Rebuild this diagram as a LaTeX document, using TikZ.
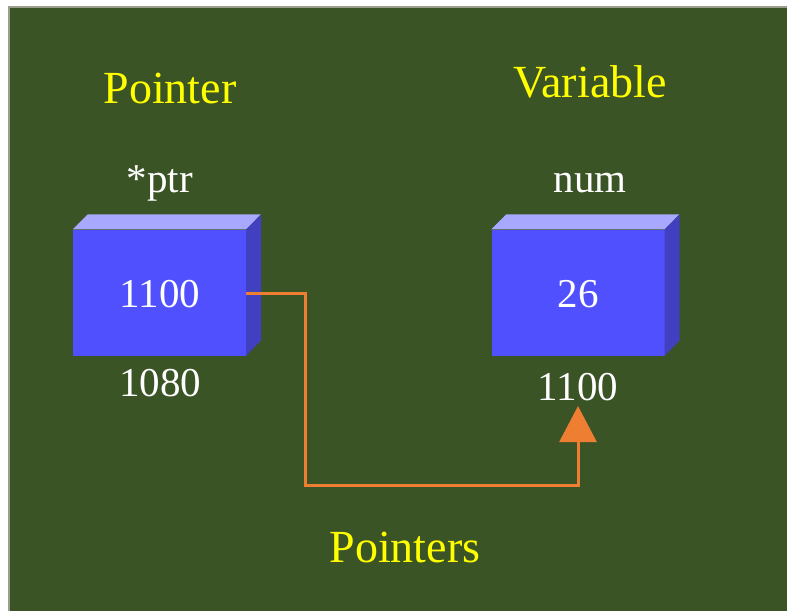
\documentclass[tikz,border=0pt]{standalone}
\usepackage{fontspec}
\setmainfont{Liberation Serif}
\usetikzlibrary{arrows.meta}
\definecolor{bggreen}{HTML}{3A5426}
\definecolor{edgegray}{HTML}{9A9E8C}
\definecolor{frontblue}{HTML}{5050FF}
\definecolor{topblue}{HTML}{A8A8FF}
\definecolor{sideblue}{HTML}{4040C0}
\definecolor{arroworange}{HTML}{EE7E32}
\definecolor{labelyellow}{HTML}{FFFF00}
\begin{document}
\begin{tikzpicture}[x=1pt,y=-1pt,
  frontbox/.style={fill=frontblue, draw=none, minimum width=173pt, minimum height=126pt, inner sep=0pt,
    text=white, font=\fontsize{41}{48}\selectfont},
  topface/.style={fill=topblue, draw=none},
  sideface/.style={fill=sideblue, draw=none},
  title/.style={text=labelyellow, anchor=base, inner sep=0pt, font=\fontsize{46}{54}\selectfont},
  whitelabel/.style={text=white, anchor=base, inner sep=0pt, font=\fontsize{41}{48}\selectfont},
  link/.style={draw=arroworange, line width=3pt}
]
\useasboundingbox (0,0) rectangle (787,611);
\fill[white] (0,0) rectangle (787,611);
\fill[edgegray] (8,6) rectangle (787,611);
\fill[bggreen] (10,8) rectangle (787,611);

% boxes
\node[frontbox] (ptrbox) at (159.5,292.5) {};
\fill[topface] (ptrbox.north west) -- ++(15,-15) -- ++(173,0) -- (ptrbox.north east) -- cycle;
\fill[sideface] (ptrbox.north east) -- ++(15,-15) -- ++(0,126) -- (ptrbox.south east) -- cycle;
\node[whitelabel] (ptrval) at (160,307) {1100};

\node[frontbox] (numbox) at (578,292.5) {};
\fill[topface] (numbox.north west) -- ++(15,-15) -- ++(173,0) -- (numbox.north east) -- cycle;
\fill[sideface] (numbox.north east) -- ++(15,-15) -- ++(0,126) -- (numbox.south east) -- cycle;
\node[whitelabel] (numval) at (578,307) {26};

% labels
\node[title] (pointertitle) at (170,103) {Pointer};
\node[title] (variabletitle) at (590,97) {Variable};
\node[whitelabel] (ptrname) at (160,192) {*ptr};
\node[whitelabel] (numname) at (590,192) {num};
\node[whitelabel] (ptraddr) at (160,396) {1080};
\node[whitelabel] (numaddr) at (578,400) {1100};
\node[title] (caption) at (405,562) {Pointers};

% connector
\coordinate (tip) at (578,406);
\draw[link, -{Triangle[length=36pt,width=37pt]}] ([yshift=-0.5pt]ptrbox.east) -- (305,293) -- (305,485) -- (578,485) -- (tip);
\end{tikzpicture}
\end{document}
